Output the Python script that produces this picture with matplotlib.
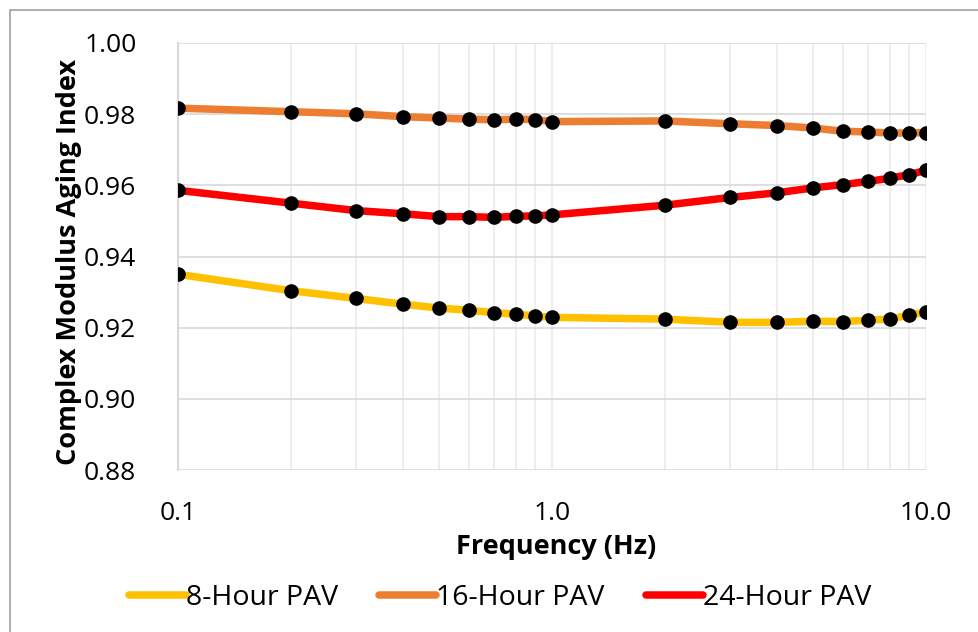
import matplotlib
matplotlib.use("Agg")
import matplotlib.pyplot as plt
from matplotlib.patches import Rectangle
from matplotlib.ticker import FixedLocator, NullFormatter

plt.rcParams['font.family'] = ['Open Sans', 'DejaVu Sans']

freq = [0.1, 0.2, 0.3, 0.4, 0.5, 0.6, 0.7, 0.8, 0.9, 1.0,
        2, 3, 4, 5, 6, 7, 8, 9, 10]

pav_8h = [0.9350, 0.9304, 0.9282, 0.9266, 0.9255, 0.9249, 0.9242, 0.9238, 0.9233, 0.9229,
          0.9224, 0.9215, 0.9215, 0.9218, 0.9217, 0.9221, 0.9224, 0.9235, 0.9244]
pav_16h = [0.9817, 0.9807, 0.9801, 0.9793, 0.9789, 0.9786, 0.9784, 0.9786, 0.9785, 0.9779,
           0.9781, 0.9773, 0.9768, 0.9761, 0.9752, 0.9750, 0.9747, 0.9747, 0.9748]
pav_24h = [0.9586, 0.9550, 0.9529, 0.9520, 0.9512, 0.9512, 0.9510, 0.9513, 0.9514, 0.9517,
           0.9544, 0.9566, 0.9579, 0.9593, 0.9602, 0.9611, 0.9620, 0.9630, 0.9642]

series = [("8-Hour PAV", pav_8h, "#FFC000"),
          ("16-Hour PAV", pav_16h, "#ED7D31"),
          ("24-Hour PAV", pav_24h, "#FF0000")]

y_ticks = [0.88, 0.90, 0.92, 0.94, 0.96, 0.98, 1.00]
x_ticks = [0.1, 1.0, 10.0]
x_labels = ["0.1", "1.0", "10.0"]

W, H = 979, 632
fig = plt.figure(figsize=(W / 100, H / 100), dpi=100)
# chart-area frame (runs off the right and bottom edges)
fig.patches.append(Rectangle((9.5 / W, -20 / H), 1000 / W, (H - 10 + 20) / H,
                             transform=fig.transFigure, fill=False,
                             edgecolor="#A0A0A0", linewidth=1.2))

ax = fig.add_axes([178 / W, 1 - 470 / H, 748 / W, 427 / H])
ax.set_xscale("log")
ax.set_xlim(0.1, 10)
ax.set_ylim(0.88, 1.00)

grid_c = "#D9D9D9"
for lab, vals, col in series:
    ax.plot(freq, vals, color=col, linewidth=5.4, solid_capstyle="round", label=lab, zorder=3)
    ax.plot(freq, vals, linestyle="none", marker="o", markersize=9.5,
            markerfacecolor="black", markeredgecolor="black", zorder=4)

ax.set_yticks(y_ticks)
ax.set_yticklabels([f"{v:.2f}" for v in y_ticks])
ax.xaxis.set_major_locator(FixedLocator(x_ticks))
ax.set_xticklabels(x_labels)
minor = [0.2, 0.3, 0.4, 0.5, 0.6, 0.7, 0.8, 0.9, 2, 3, 4, 5, 6, 7, 8, 9]
ax.xaxis.set_minor_locator(FixedLocator(minor))
ax.xaxis.set_minor_formatter(NullFormatter())

ax.grid(True, which="major", axis="y", color=grid_c, linewidth=1.2, zorder=0)
ax.grid(True, which="both", axis="x", color="#EBEBEB", linewidth=1.2, zorder=0)
ax.tick_params(which="both", length=0, labelsize=19, colors="black")
ax.tick_params(axis="x", pad=22)
ax.tick_params(axis="y", pad=30)

for s in ["top", "right", "bottom"]:
    ax.spines[s].set_visible(False)
ax.spines["left"].set_color(grid_c)
ax.spines["left"].set_linewidth(1.5)

ax.set_xlabel("Frequency (Hz)", fontsize=19.5, fontweight="bold")
ax.set_ylabel("Complex Modulus Aging Index", fontsize=19.5, fontweight="bold")
ax.xaxis.set_label_coords(0.505, -0.150)
ax.yaxis.set_label_coords(-0.128, 0.487)

fig.legend(loc="center", bbox_to_anchor=(0.511, 1 - 598 / H), ncol=3, frameon=False,
           fontsize=20.5, handlelength=2.0, handletextpad=0.0, columnspacing=1.45)

fig.savefig("out.png", dpi=100)
